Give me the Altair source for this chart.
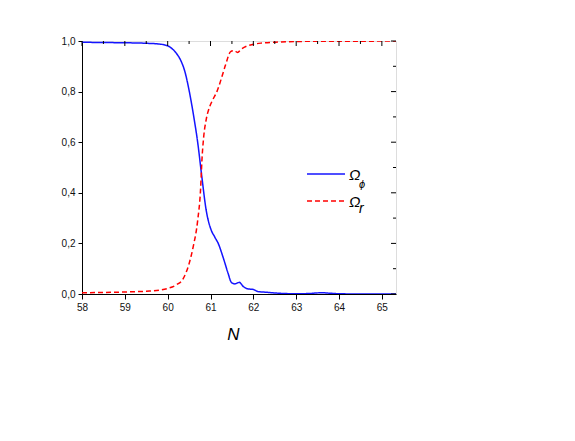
import altair as alt
import pandas as pd

# ---- data ----
n_phi = [58.0, 58.5, 59.0, 59.5, 59.8, 60.0, 60.1, 60.2, 60.3, 60.4, 60.5, 60.6, 60.7,
         60.8, 60.9, 61.0, 61.1, 61.18, 61.29, 61.41, 61.49, 61.57, 61.67, 61.77, 61.88,
         62.0, 62.1, 62.3, 62.6, 63.0, 63.3, 63.6, 63.8, 64.0, 64.5, 65.33]
omega_phi = [0.995, 0.994, 0.993, 0.991, 0.988, 0.981, 0.97, 0.952, 0.925, 0.88, 0.805, 0.71, 0.6,
             0.46, 0.33, 0.26, 0.225, 0.2, 0.147, 0.082, 0.045, 0.04, 0.046, 0.029, 0.02,
             0.018, 0.01, 0.007, 0.003, 0.001, 0.002, 0.005, 0.003, 0.001, 0.0, 0.0]

n_r = [58.0, 58.5, 59.0, 59.5, 59.8, 60.0, 60.2, 60.36, 60.5, 60.6, 60.7, 60.77, 60.8,
       60.84, 60.9, 60.98, 61.06, 61.15, 61.25, 61.35, 61.47, 61.55, 61.63, 61.72, 61.85,
       62.0, 62.2, 62.6, 63.0, 63.5, 64.0, 65.33]
omega_r = [0.005, 0.006, 0.008, 0.011, 0.015, 0.022, 0.036, 0.06, 0.12, 0.19, 0.29, 0.42, 0.53,
           0.62, 0.69, 0.74, 0.77, 0.80, 0.85, 0.905, 0.958, 0.962, 0.955, 0.968, 0.98,
           0.987, 0.992, 0.996, 0.998, 0.999, 0.999, 1.0]

series_names = ["Ω_phi", "Ω_r"]
series_colors = ["#1414ff", "#ff0000"]

x_major = [58, 59, 60, 61, 62, 63, 64, 65]
x_minor = [58.5, 59.5, 60.5, 61.5, 62.5, 63.5, 64.5]
y_major = [0.0, 0.2, 0.4, 0.6, 0.8, 1.0]
y_minor = [0.1, 0.3, 0.5, 0.7, 0.9]

W, H = 314, 253
FONT = "Liberation Sans"

df = pd.concat([
    pd.DataFrame({"N": n_phi, "val": omega_phi, "series": series_names[0]}),
    pd.DataFrame({"N": n_r, "val": omega_r, "series": series_names[1]}),
])

xscale = alt.Scale(domain=[58, 65.33], nice=False, zero=False)
yscale = alt.Scale(domain=[0, 1], nice=False, zero=False)

xaxis = alt.Axis(
    values=sorted(x_major + x_minor),
    labelExpr="datum.value % 1 === 0 ? format(datum.value, 'd') : ''",
    tickSize={"condition": {"test": "datum.value % 1 === 0", "value": 5}, "value": 3},
    labelFlush=False, labelOverlap=False, grid=False,
    labelFont=FONT, labelFontSize=10, labelColor="#111", labelPadding=3,
    tickColor="black", domainColor="black",
    title="N", titleFont=FONT, titleFontSize=17, titleFontStyle="italic",
    titleFontWeight="normal", titleX=151, titleY=45, titleBaseline="alphabetic",
    titleAlign="center", titleColor="black",
)
yaxis = alt.Axis(
    values=sorted(y_major + y_minor),
    labelExpr="round(datum.value*10) % 2 === 0 ? replace(format(datum.value, '.1f'), '.', ',') : ''",
    tickSize=4,
    labelFlush=False, labelOverlap=False, grid=False,
    labelFont=FONT, labelFontSize=10, labelColor="#111", labelPadding=3,
    tickColor="black", domainColor="black", title=None,
)

lines = alt.Chart(df).mark_line(strokeWidth=1.5, interpolate="monotone", clip=True).encode(
    x=alt.X("N:Q", scale=xscale, axis=xaxis),
    y=alt.Y("val:Q", scale=yscale, axis=yaxis),
    color=alt.Color("series:N", scale=alt.Scale(domain=series_names, range=series_colors), legend=None),
    strokeDash=alt.StrokeDash("series:N",
                              scale=alt.Scale(domain=series_names, range=[[1, 0], [5, 3]]),
                              legend=None),
)

# inward ticks on top and right
top_major = alt.Chart(pd.DataFrame({"N": x_major})).mark_rule(color="black").encode(
    x=alt.X("N:Q", scale=xscale), y=alt.value(0), y2=alt.value(5))
top_minor = alt.Chart(pd.DataFrame({"N": x_minor})).mark_rule(color="black").encode(
    x=alt.X("N:Q", scale=xscale), y=alt.value(0), y2=alt.value(3))
right_major = alt.Chart(pd.DataFrame({"val": y_major})).mark_rule(color="black").encode(
    y=alt.Y("val:Q", scale=yscale), x=alt.value(W), x2=alt.value(W - 5))
right_minor = alt.Chart(pd.DataFrame({"val": y_minor})).mark_rule(color="black").encode(
    y=alt.Y("val:Q", scale=yscale), x=alt.value(W), x2=alt.value(W - 3))

# legend drawn by hand (subscripts)
leg_blue = alt.Chart().mark_rule(color=series_colors[0], strokeWidth=1.5).encode(
    x=alt.value(225), x2=alt.value(263), y=alt.value(133))
leg_red = alt.Chart().mark_rule(color=series_colors[1], strokeWidth=1.5, strokeDash=[5, 3]).encode(
    x=alt.value(225), x2=alt.value(263), y=alt.value(160))
txt = dict(font=FONT, fontStyle="italic", color="black", align="left", baseline="alphabetic")
om1 = alt.Chart().mark_text(fontSize=15, **txt).encode(x=alt.value(267), y=alt.value(139), text=alt.value("Ω"))
sub1 = alt.Chart().mark_text(fontSize=11, **txt).encode(x=alt.value(277), y=alt.value(147), text=alt.value("ϕ"))
om2 = alt.Chart().mark_text(fontSize=15, **txt).encode(x=alt.value(267), y=alt.value(166), text=alt.value("Ω"))
sub2 = alt.Chart().mark_text(fontSize=14, **txt).encode(x=alt.value(277), y=alt.value(172), text=alt.value("r"))

chart = alt.layer(
    lines, top_major, top_minor, right_major, right_minor,
    leg_blue, leg_red, om1, sub1, om2, sub2,
).properties(
    width=W, height=H,
    autosize="none",
    padding={"left": 74, "top": 33, "right": 40, "bottom": 80},
).configure_view(
    stroke="black", strokeWidth=1
).configure(background="white")

chart.save("out.html", embed_options={"renderer": "svg", "actions": False})
